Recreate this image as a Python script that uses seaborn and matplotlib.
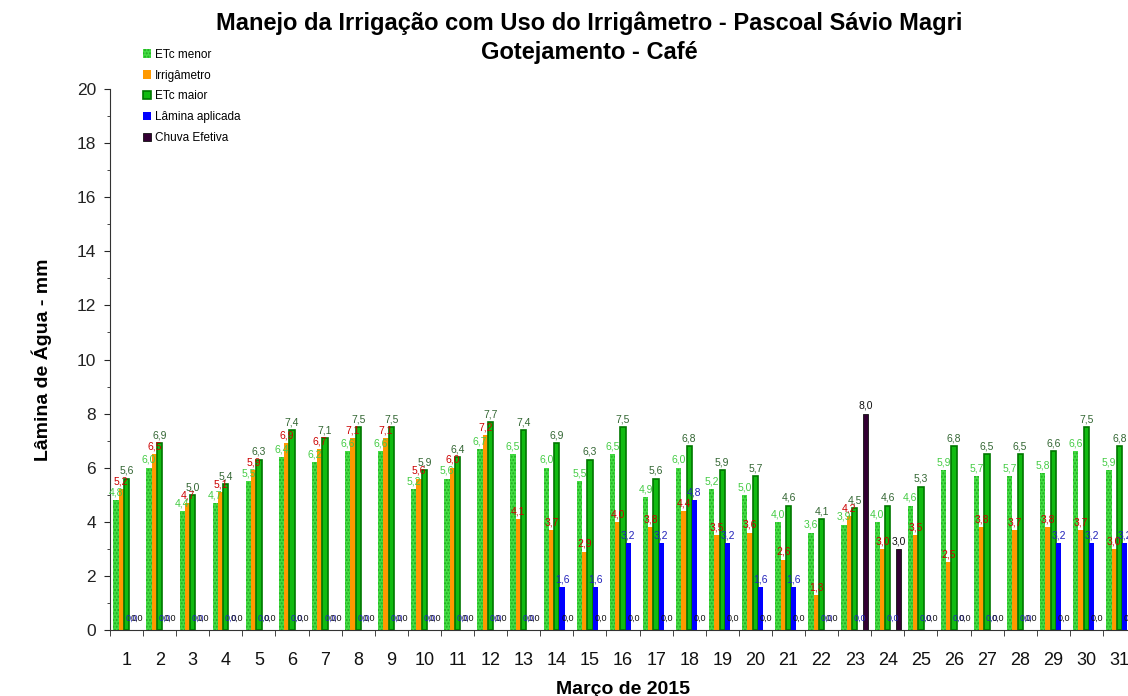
import numpy as np
import pandas as pd
import seaborn as sns
import matplotlib.pyplot as plt
from matplotlib.ticker import MultipleLocator, FixedLocator

sns.set_style('white')
plt.rcParams['font.family'] = ['Liberation Sans', 'DejaVu Sans']
plt.rcParams['text.color'] = 'black'
plt.rcParams['axes.labelcolor'] = 'black'

days = list(range(1, 32))
etc_menor = [4.8, 6.0, 4.4, 4.7, 5.5, 6.4, 6.2, 6.6, 6.6, 5.2, 5.6, 6.7, 6.5, 6.0, 5.5, 6.5,
             4.9, 6.0, 5.2, 5.0, 4.0, 3.6, 3.9, 4.0, 4.6, 5.9, 5.7, 5.7, 5.8, 6.6, 5.9]
irrigametro = [5.2, 6.5, 4.7, 5.1, 5.9, 6.9, 6.7, 7.1, 7.1, 5.6, 6.0, 7.2, 4.1, 3.7, 2.9, 4.0,
               3.8, 4.4, 3.5, 3.6, 2.6, 1.3, 4.2, 3.0, 3.5, 2.5, 3.8, 3.7, 3.8, 3.7, 3.0]
etc_maior = [5.6, 6.9, 5.0, 5.4, 6.3, 7.4, 7.1, 7.5, 7.5, 5.9, 6.4, 7.7, 7.4, 6.9, 6.3, 7.5,
             5.6, 6.8, 5.9, 5.7, 4.6, 4.1, 4.5, 4.6, 5.3, 6.8, 6.5, 6.5, 6.6, 7.5, 6.8]
lamina = [0, 0, 0, 0, 0, 0, 0, 0, 0, 0, 0, 0, 0, 1.6, 1.6, 3.2,
          3.2, 4.8, 3.2, 1.6, 1.6, 0, 0, 0, 0, 0, 0, 0, 3.2, 3.2, 3.2]
chuva = [0] * 22 + [8.0, 3.0] + [0] * 7

series = ['ETc menor', 'Irrigâmetro', 'ETc maior', 'Lâmina aplicada', 'Chuva Efetiva']
values = [etc_menor, irrigametro, etc_maior, lamina, chuva]
fills = ['#44dd44', '#ff9900', '#11bb11', '#0000ff', '#330033']
label_colors = ['#44cc44', '#cc0000', '#336633', '#2222bb', '#111111']

df = pd.DataFrame({
    'dia': np.tile(days, len(series)),
    'serie': np.repeat(series, len(days)),
    'lamina': np.concatenate(values),
})

fig = plt.figure(figsize=(11.28, 6.96), dpi=100)
ax = fig.add_axes([110 / 1128, 1 - 630 / 696, 1026 / 1128, 541 / 696])

sns.barplot(data=df, x='dia', y='lamina', hue='serie', hue_order=series,
            palette=fills, width=0.8, saturation=1, legend=False, ax=ax)

for i, cont in enumerate(ax.containers):
    for bar in cont:
        bar.set_linewidth(0)
        if i == 0:
            bar.set_hatch('.....')
            bar.set_edgecolor('#22aa22')
        if i == 2:
            bar.set_edgecolor('#007700')
            bar.set_linewidth(1.2)
        if i == 4:
            bar.set_edgecolor('#111111')
            bar.set_linewidth(0.6)
    for bar, v in zip(cont, values[i]):
        cx = bar.get_x() + bar.get_width() / 2
        txt = f'{v:.1f}'.replace('.', ',')
        if v == 0:
            # zero values are written near the base, as in the original sheet
            if i >= 3:
                ax.text(cx, 0.45, txt, ha='center', va='center', fontsize=6.5,
                        color=label_colors[i])
        else:
            ax.text(cx, v + 0.1, txt, ha='center', va='bottom', fontsize=7.5,
                    color=label_colors[i])

ax.set_xlim(-0.5, 30.5)
ax.set_ylim(0, 20)
ax.yaxis.set_major_locator(MultipleLocator(2))
ax.yaxis.set_minor_locator(MultipleLocator(1))
ax.xaxis.set_minor_locator(FixedLocator(np.arange(-0.5, 31, 1)))
ax.tick_params(axis='y', which='both', left=True, direction='out', length=4,
               labelsize=12.5, labelcolor='#222222', pad=6)
ax.tick_params(axis='y', which='minor', length=2)
ax.tick_params(axis='x', which='major', bottom=False, labelsize=13, labelcolor='#111111', pad=12)
ax.tick_params(axis='x', which='minor', bottom=True, direction='out', length=4)
sns.despine(ax=ax)
ax.spines['left'].set_color('#333333')
ax.spines['bottom'].set_color('#333333')

ax.set_xlabel('Março de 2015', fontsize=14, fontweight='bold', labelpad=9)
ax.set_ylabel('Lâmina de Água - mm', fontsize=14, fontweight='bold', labelpad=18)
fig.text(0.522, 0.966, 'Manejo da Irrigação com Uso do Irrigâmetro - Pascoal Sávio Magri',
         ha='center', va='center', fontsize=17, fontweight='bold')
fig.text(0.522, 0.925, 'Gotejamento - Café', ha='center', va='center',
         fontsize=17, fontweight='bold')

ax.legend(handles=[c[0] for c in ax.containers], labels=series, loc='upper left',
          bbox_to_anchor=(138 / 1128, 1 - 44 / 696), bbox_transform=fig.transFigure,
          frameon=False, fontsize=8.5, handlelength=0.7, handleheight=0.7,
          handletextpad=0.3, labelspacing=0.75, borderaxespad=0)

fig.savefig('out.png', dpi=100)
